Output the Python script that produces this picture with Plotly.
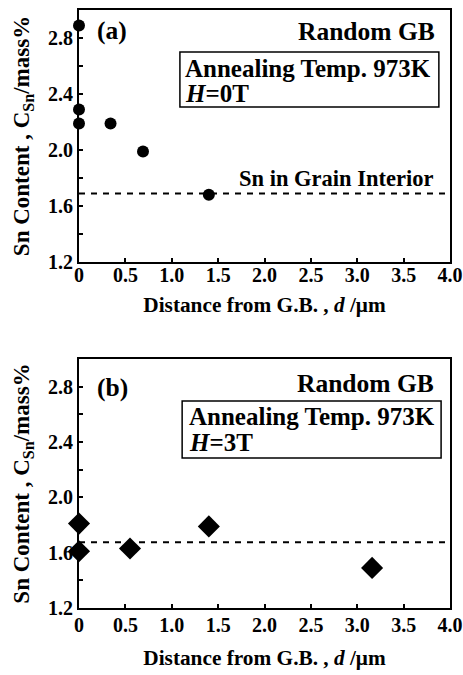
import plotly.graph_objects as go

# Panel (a): H = 0T
a_d = [0.0, 0.0, 0.0, 0.34, 0.69, 1.40]
a_c = [2.89, 2.29, 2.19, 2.19, 1.99, 1.68]
a_interior = 1.69

# Panel (b): H = 3T
b_d = [0.0, 0.0, 0.55, 1.40, 3.16]
b_c = [1.81, 1.61, 1.63, 1.79, 1.49]
b_interior = 1.675

x_ticks = [0, 0.5, 1.0, 1.5, 2.0, 2.5, 3.0, 3.5, 4.0]
x_ticktext = ["0", "0.5", "1.0", "1.5", "2.0", "2.5", "3.0", "3.5", "4.0"]
y_ticks = [1.2, 1.6, 2.0, 2.4, 2.8]
y_ticktext = ["1.2", "1.6", "2.0", "2.4", "2.8"]

FONT = "Liberation Serif, Times New Roman, Tinos, DejaVu Serif, serif"

fig = go.Figure()
fig.add_trace(go.Scatter(x=a_d, y=a_c, mode="markers", xaxis="x", yaxis="y",
                         marker=dict(symbol="circle", size=12, color="black"),
                         showlegend=False, cliponaxis=False))
fig.add_trace(go.Scatter(x=[0, 4.0], y=[a_interior, a_interior], mode="lines",
                         xaxis="x", yaxis="y",
                         line=dict(color="black", width=2, dash="6px,6px"),
                         showlegend=False))
fig.add_trace(go.Scatter(x=b_d, y=b_c, mode="markers", xaxis="x2", yaxis="y2",
                         marker=dict(symbol="diamond", size=17, color="black"),
                         showlegend=False, cliponaxis=False))
fig.add_trace(go.Scatter(x=[0, 4.0], y=[b_interior, b_interior], mode="lines",
                         xaxis="x2", yaxis="y2",
                         line=dict(color="black", width=2, dash="6px,6px"),
                         showlegend=False))

xt = "<b>Distance from G.B. , <i>d</i> /μm</b>"
yt = "<b>Sn Content , C<sub>Sn</sub>/mass%</b>"

def xaxis(anchor, dom, lab_off, title_off):
    return dict(domain=dom, anchor=anchor, range=[0, 4.0], tickvals=x_ticks,
                ticktext=["<b>%s</b>" % t for t in x_ticktext], ticks="inside", ticklen=4, tickwidth=2,
                tickcolor="black", showline=True, linewidth=2, linecolor="black",
                mirror=True, showgrid=False, zeroline=False, automargin=False,
                ticklabelstandoff=lab_off,
                tickfont=dict(family=FONT, size=20, color="black"),
                title=dict(text=xt, standoff=title_off,
                           font=dict(family=FONT, size=21.3, color="black")))

def yaxis(anchor, dom):
    return dict(domain=dom, anchor=anchor, range=[1.2, 3.0], tickvals=y_ticks,
                ticktext=["<b>%s</b>" % t for t in y_ticktext], ticks="inside", ticklen=4, tickwidth=2,
                tickcolor="black", showline=True, linewidth=2, linecolor="black",
                mirror=True, showgrid=False, zeroline=False, automargin=False,
                minor=dict(tickvals=[1.4, 1.8, 2.2, 2.6], ticks="inside", ticklen=4,
                           tickwidth=2, tickcolor="black", showgrid=False),
                tickfont=dict(family=FONT, size=20, color="black"),
                title=dict(text=yt, standoff=12,
                           font=dict(family=FONT, size=23, color="black")))

xd = [79 / 463, 450 / 463]
fig.update_layout(
    width=463, height=675,
    margin=dict(l=0, r=0, t=0, b=0),
    paper_bgcolor="white", plot_bgcolor="white",
    font=dict(family=FONT, color="black"),
    xaxis=xaxis("y", xd, -6, 12),
    yaxis=yaxis("x", [1 - 262 / 675, 1 - 10 / 675]),
    xaxis2=xaxis("y2", xd, -2, 15),
    yaxis2=yaxis("x2", [1 - 608 / 675, 1 - 359 / 675]),
)

afont = dict(family=FONT, size=25.5, color="black")
bfont = dict(family=FONT, size=25, color="black")
sfont = dict(family=FONT, size=22.5, color="black")


def ann(xr, yr, x, y, text, xanchor, font):
    return dict(xref=xr, yref=yr, x=x, y=y, text=text, xanchor=xanchor,
                yanchor="middle", font=font, showarrow=False)

anns = [
    ann("x domain", "y domain", 0.043, 0.918, "<b>(a)</b>", "left", afont),
    ann("x domain", "y domain", 0.965, 0.915, "<b>Random GB</b>", "right", afont),
    ann("x domain", "y domain", 0.280, 0.768, "<b>Annealing Temp. 973K</b>", "left", bfont),
    ann("x domain", "y domain", 0.280, 0.668, "<b><i>H</i>=0T</b>", "left", bfont),
    ann("x domain", "y domain", 0.960, 0.330, "<b>Sn in Grain Interior</b>", "right", sfont),
    ann("x2 domain", "y2 domain", 0.043, 0.886, "<b>(b)</b>", "left", afont),
    ann("x2 domain", "y2 domain", 0.962, 0.902, "<b>Random GB</b>", "right", afont),
    ann("x2 domain", "y2 domain", 0.290, 0.770, "<b>Annealing Temp. 973K</b>", "left", bfont),
    ann("x2 domain", "y2 domain", 0.290, 0.666, "<b><i>H</i>=3T</b>", "left", bfont),
]
fig.update_layout(annotations=anns)

shapes = [
    dict(type="rect", xref="x domain", yref="y domain", x0=0.272, x1=0.970, y0=0.615, y1=0.833,
         line=dict(color="black", width=1.5), fillcolor="rgba(0,0,0,0)"),
    dict(type="rect", xref="x2 domain", yref="y2 domain", x0=0.278, x1=0.976, y0=0.602, y1=0.831,
         line=dict(color="black", width=1.5), fillcolor="rgba(0,0,0,0)"),
]
fig.update_layout(shapes=shapes)

fig.write_html("out.html", config={"displayModeBar": False},
               post_script="document.body.style.margin='0';document.body.style.overflow='hidden';")
